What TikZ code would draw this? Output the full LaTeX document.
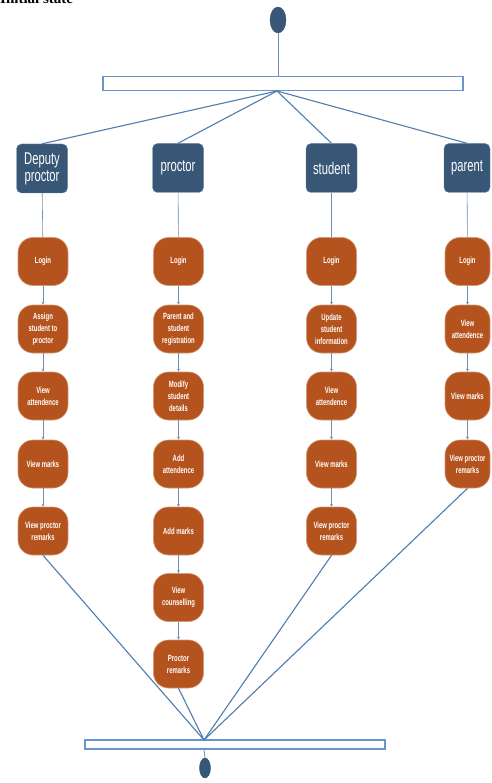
\documentclass[tikz,border=0pt]{standalone}
\usepackage{fontspec}
\setmainfont{Liberation Serif}
\newfontfamily\narrowfont[FakeStretch=0.66]{Liberation Sans}
\usetikzlibrary{arrows.meta,shapes.geometric}
\definecolor{hdrblue}{HTML}{385676}
\definecolor{actorange}{HTML}{B4531D}
\definecolor{linkblue}{HTML}{4F7DAD}
\definecolor{barblue}{HTML}{6A95C8}
\definecolor{seqblue}{HTML}{7090B5}
\begin{document}
\begin{tikzpicture}[x=1pt,y=-1pt,
  hdr/.style={draw=hdrblue!70!white, fill=hdrblue, rounded corners=5pt, text=white,
    font=\narrowfont\fontsize{17}{17}\selectfont, minimum width=51pt, minimum height=49pt,
    inner sep=1pt, align=center},
  act/.style={fill=actorange, draw=actorange!60!white, line width=0.6pt, rounded corners=15pt, text=white,
    font=\narrowfont\bfseries\fontsize{9}{12}\selectfont, minimum width=50pt, minimum height=48pt,
    inner sep=1pt, align=center},
  pact/.style={act, minimum width=45pt},
  bar/.style={draw=barblue, line width=1.2pt, fill=white, inner sep=0pt},
  dot/.style={ellipse, fill=hdrblue, draw=hdrblue, inner sep=0pt},
  fan/.style={draw=linkblue, line width=1.1pt},
  seq/.style={draw=seqblue, line width=0.6pt, -{Stealth[length=3pt,width=3pt]}},
  link/.style={draw=seqblue, line width=0.6pt},
]
\useasboundingbox (0,0) rectangle (491,783);
\fill[white] (0,0) rectangle (491,783);

% partially cut caption at the top
\node[anchor=base west, font=\bfseries\fontsize{15}{15}\selectfont, inner sep=0pt] (cap) at (0,4) {Initial state};

% start, fork bar
\node[dot, minimum width=16pt, minimum height=26pt] (start) at (278,20) {};
\node[bar, minimum width=360pt, minimum height=14pt] (topbar) at (283,83.5) {};
\draw[link, line width=0.8pt] (start) -- (start |- topbar.north);
\coordinate (ftop) at (277,91);

% headers
\node[hdr] (dep) at (42,168.5) {Deputy\\proctor};
\node[hdr] (pro) at (178,168) {proctor};
\node[hdr] (stu) at (331.5,168) {student};
\node[hdr, minimum width=46pt] (par) at (467,168) {parent};

\foreach \h in {dep,pro,stu,par} \draw[fan] (ftop) -- (\h.north);

% deputy proctor column
\node[act] (d1) at (43,261.5) {Login};
\node[act] (d2) at (43,329) {Assign\\student to\\proctor};
\node[act] (d3) at (43,396) {View\\attendence};
\node[act] (d4) at (43,464) {View marks};
\node[act] (d5) at (43,531) {View proctor\\remarks};

% proctor column
\node[act] (p1) at (178.5,261.5) {Login};
\node[act] (p2) at (178.5,329) {Parent and\\student\\registration};
\node[act] (p3) at (178.5,396) {Modify\\student\\details};
\node[act] (p4) at (178.5,464) {Add\\attendence};
\node[act] (p5) at (178.5,531) {Add marks};
\node[act] (p6) at (178.5,597.5) {View\\counselling};
\node[act] (p7) at (178.5,664) {Proctor\\remarks};

% student column
\node[act] (s1) at (331.5,261.5) {Login};
\node[act] (s2) at (331.5,329) {Update\\student\\information};
\node[act] (s3) at (331.5,396) {View\\attendence};
\node[act] (s4) at (331.5,464) {View marks};
\node[act] (s5) at (331.5,531) {View proctor\\remarks};

% parent column
\node[pact] (q1) at (467.5,261.5) {Login};
\node[pact] (q2) at (467.5,329) {View\\attendence};
\node[pact] (q3) at (467.5,396) {View marks};
\node[pact] (q4) at (467.5,464) {View proctor\\remarks};

% header to login
\draw[link] (dep) -- (d1);
\draw[link] (pro) -- (p1);
\draw[link] (stu) -- (s1);
\draw[link] (par) -- (q1);

% sequences
\draw[seq] (d1) -- (d2); \draw[seq] (d2) -- (d3); \draw[seq] (d3) -- (d4); \draw[seq] (d4) -- (d5);
\draw[seq] (p1) -- (p2); \draw[seq] (p2) -- (p3); \draw[seq] (p3) -- (p4); \draw[seq] (p4) -- (p5);
\draw[seq] (p5) -- (p6); \draw[seq] (p6) -- (p7);
\draw[seq] (s1) -- (s2); \draw[seq] (s2) -- (s3); \draw[seq] (s3) -- (s4); \draw[seq] (s4) -- (s5);
\draw[seq] (q1) -- (q2); \draw[seq] (q2) -- (q3); \draw[seq] (q3) -- (q4);

% join bar and end
\node[bar, minimum width=300pt, minimum height=9pt] (botbar) at (235,744.5) {};
\coordinate (fbot) at (204,740);
\draw[fan] (d5.south) -- (fbot);
\draw[fan] (p7.south) -- (fbot);
\draw[fan] (s5.south) -- (fbot);
\draw[fan] (q4.south) -- (fbot);
\node[dot, minimum width=11pt, minimum height=20pt] (end) at (205,768) {};
\draw[link, line width=0.8pt] (fbot |- botbar.south) -- (end.north);
\end{tikzpicture}
\end{document}
